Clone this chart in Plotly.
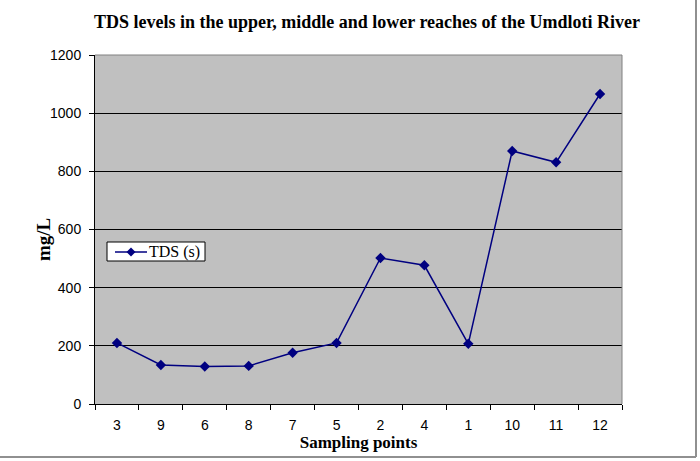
import plotly.graph_objects as go

sampling_points = ["3", "9", "6", "8", "7", "5", "2", "4", "1", "10", "11", "12"]
tds_values = [210, 134, 129, 131, 176, 210, 502, 477, 207, 870, 831, 1066]
y_ticks = [0, 200, 400, 600, 800, 1000, 1200]
series_name = "TDS (s)"
line_color = "#000080"

W, H = 700, 461
L, R, T, B = 95, 78, 55, 57
PW, PH = W - L - R, H - T - B


def px(x):
    return (x - L) / PW


def py(y):
    return (H - B - y) / PH


fig = go.Figure()
fig.add_trace(go.Scatter(
    x=sampling_points, y=tds_values, mode="lines+markers", name=series_name,
    line=dict(color=line_color, width=1.5),
    marker=dict(symbol="diamond", size=8, color=line_color),
    showlegend=False,
))

fig.update_layout(
    width=W, height=H,
    margin=dict(l=L, r=R, t=T, b=B),
    paper_bgcolor="white", plot_bgcolor="#C0C0C0",
    title=dict(text="<b>TDS levels in the upper, middle and lower reaches of the Umdloti River</b>",
               x=367/W, xanchor="center", y=1-22/H, yanchor="middle",
               font=dict(family="Liberation Serif", size=18, color="black")),
    xaxis=dict(type="category", range=[-0.5, 11.5], tickson="boundaries",
               ticks="outside", ticklen=5,
               tickcolor="black", showgrid=False, showline=True, linecolor="black",
               linewidth=1, ticklabelstandoff=8,
               tickfont=dict(family="Liberation Sans", size=14, color="black"),
               title=dict(text="<b>Sampling points</b>", standoff=0,
                          font=dict(family="Liberation Serif", size=17, color="black"))),
    yaxis=dict(range=[0, 1200], tickvals=y_ticks, ticks="outside", ticklen=5,
               tickcolor="black", showgrid=True, gridcolor="black", gridwidth=1,
               showline=True, linecolor="black", linewidth=1, zeroline=False,
               ticklabelstandoff=5,
               tickfont=dict(family="Liberation Sans", size=14, color="black")),
    annotations=[
        dict(text="<b>mg/L</b>", textangle=-90, xref="paper", yref="paper",
             x=px(43), y=py(240), xanchor="center", yanchor="middle", showarrow=False,
             font=dict(family="Liberation Serif", size=19, color="black")),
        dict(text=series_name, xref="paper", yref="paper",
             x=px(147), y=py(252), xanchor="left", yanchor="middle", showarrow=False,
             font=dict(family="Liberation Serif", size=16, color="black")),
    ],
)

# plot area border (gray, top and right)
fig.add_shape(type="line", xref="paper", yref="paper", x0=0, x1=1, y0=1, y1=1,
              line=dict(color="#808080", width=1))
fig.add_shape(type="line", xref="paper", yref="paper", x0=1, x1=1, y0=0, y1=1,
              line=dict(color="#808080", width=1))
# outer chart frame (right and bottom edges visible)
fig.add_shape(type="line", xref="paper", yref="paper",
              x0=px(696), x1=px(696), y0=py(457), y1=py(0),
              line=dict(color="#909090", width=2))
fig.add_shape(type="line", xref="paper", yref="paper",
              x0=px(0), x1=px(696), y0=py(457), y1=py(457),
              line=dict(color="#909090", width=2))

# legend box
fig.add_shape(type="rect", xref="paper", yref="paper",
              x0=px(107), x1=px(205), y0=py(261), y1=py(242),
              fillcolor="white", line=dict(color="black", width=1))
fig.add_shape(type="line", xref="paper", yref="paper",
              x0=px(115), x1=px(147), y0=py(252), y1=py(252),
              line=dict(color=line_color, width=1.5))
fig.add_shape(type="path", xref="paper", yref="paper",
              xsizemode="pixel", ysizemode="pixel", xanchor=px(131), yanchor=py(252),
              path="M 0 4.5 L 4.5 0 L 0 -4.5 L -4.5 0 Z",
              fillcolor=line_color, line=dict(color=line_color, width=0))

fig.write_html("out.html")
